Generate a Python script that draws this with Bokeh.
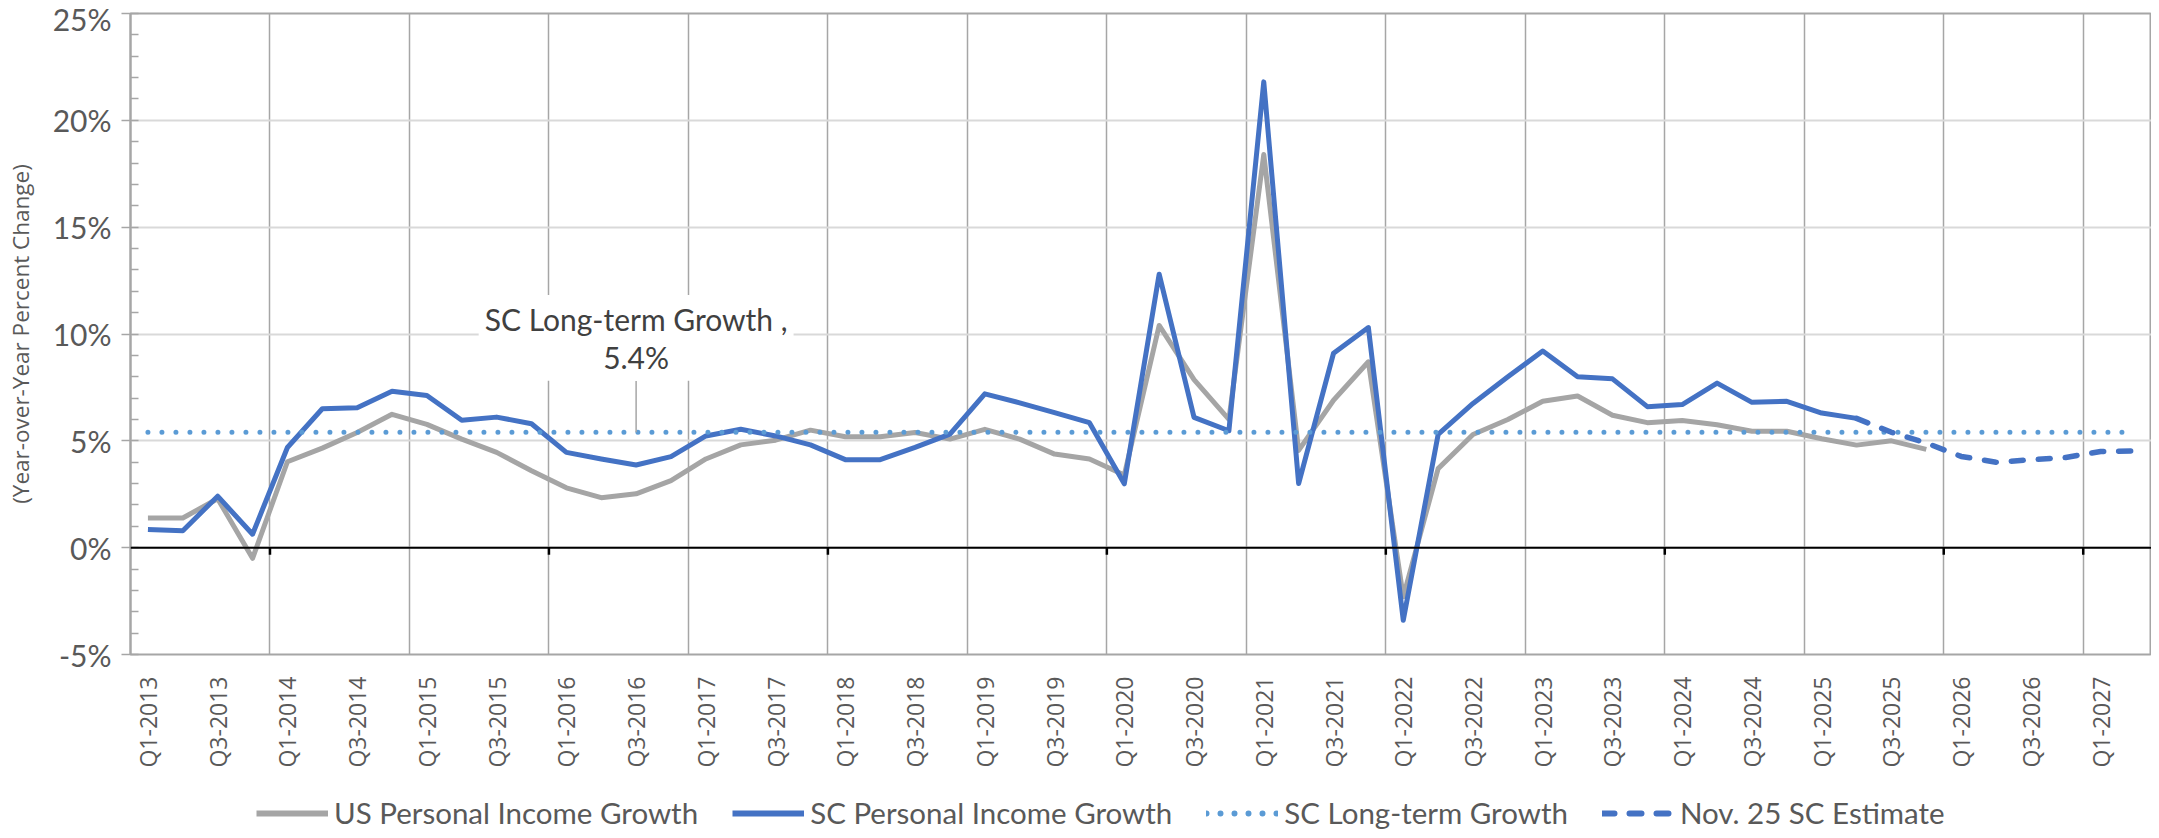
import numpy as np
from bokeh.plotting import figure
from bokeh.layouts import column
from bokeh.models import (Range1d, FixedTicker, Legend, LegendItem, Label, Span)
from bokeh.embed import file_html
from bokeh.resources import INLINE

# ---------------- data ----------------
quarters = [f"Q{q}-{y}" for y in range(2013, 2028) for q in range(1, 5)][:58]

us_growth = [1.39, 1.39, 2.29, -0.5, 4.02, 4.66, 5.39, 6.24, 5.77, 5.08, 4.46, 3.6,
             2.8, 2.34, 2.52, 3.14, 4.15, 4.81, 5.03, 5.5, 5.19, 5.19, 5.39, 5.08,
             5.54, 5.08, 4.38, 4.15, 3.4, 10.4, 7.86, 6.0, 18.4, 4.55, 6.9, 8.7,
             -2.3, 3.7, 5.3, 6.0, 6.85, 7.1, 6.2, 5.85, 5.95, 5.75, 5.45, 5.45,
             5.1, 4.8, 5.0, 4.6]

sc_growth = [0.85, 0.79, 2.41, 0.63, 4.69, 6.5, 6.55, 7.32, 7.12, 5.96, 6.11, 5.8,
             4.46, 4.15, 3.87, 4.26, 5.23, 5.54, 5.23, 4.81, 4.12, 4.12, 4.69, 5.31,
             7.2, 6.78, 6.32, 5.85, 2.99, 12.8, 6.1, 5.47, 21.8, 3.0, 9.1, 10.3,
             -3.4, 5.3, 6.75, 8.0, 9.2, 8.0, 7.9, 6.6, 6.7, 7.7, 6.8, 6.85,
             6.3, 6.05]

estimate_start = "Q2-2025"
sc_estimate = [6.05, 5.4, 4.9, 4.27, 4.0, 4.11, 4.22, 4.5, 4.53]

long_term = 5.4
label_quarter = "Q3-2016"
y_ticks = [-5, 0, 5, 10, 15, 20, 25]
series_names = ["US Personal Income Growth", "SC Personal Income Growth",
                "SC Long-term Growth", "Nov. 25 SC Estimate"]

# ---------------- styles ----------------
TXT = "#595959"
C_US, C_SC, C_LT = "#A5A5A5", "#4472C4", "#5B9BD5"
styles = [
    dict(line_color=C_US, line_width=5, line_join="round"),
    dict(line_color=C_SC, line_width=5, line_join="round"),
    dict(line_color=C_LT, line_width=5, line_dash="0 14", line_cap="round"),
    dict(line_color=C_SC, line_width=5.5, line_dash="12 15", line_cap="round",
         line_join="round"),
]

# ---------------- main figure ----------------
n = len(quarters)
QW = 34.87  # px per quarter (layout only)
W = 2151
FRAME_LEFT, FRAME_TOP, FRAME_BOTTOM = 130, 13, 656
H_MAIN = 770
LEG_FIG_H = 60
x_end = -0.5 + (W - FRAME_LEFT) / QW

p = figure(width=W, height=H_MAIN, output_backend="svg", toolbar_location=None,
           x_range=Range1d(-0.5, x_end), y_range=Range1d(-5, 25),
           min_border_left=FRAME_LEFT, min_border_right=0, min_border_top=FRAME_TOP,
           min_border_bottom=H_MAIN - FRAME_BOTTOM)
p.background_fill_color = "white"
p.border_fill_color = "white"
p.outline_line_color = "#A6A6A6"
p.outline_line_width = 2

# y axis
ya = p.yaxis[0]
ya.ticker = FixedTicker(ticks=y_ticks, minor_ticks=list(range(y_ticks[0], y_ticks[-1] + 1)))
ya.major_label_overrides = {t: f"{t}%" for t in y_ticks}
ya.major_label_text_font = "Lato"
ya.major_label_text_font_size = "30px"
ya.major_label_text_color = TXT
ya.axis_line_color = "#A6A6A6"
ya.axis_line_width = 2
ya.major_tick_line_color = "#A6A6A6"
ya.major_tick_line_width = 1.5
ya.major_tick_out = 9
ya.major_tick_in = 0
ya.minor_tick_line_color = "#A6A6A6"
ya.minor_tick_line_width = 1.5
ya.minor_tick_in = 8
ya.minor_tick_out = 0
ya.major_label_standoff = 10
ya.axis_label = "(Year-over-Year Percent Change)"
ya.axis_label_text_font = "Open Sans"
ya.axis_label_text_font_size = "22.5px"
ya.axis_label_text_font_style = "normal"
ya.axis_label_text_color = TXT
ya.axis_label_standoff = 14

# x axis
xa = p.xaxis[0]
xa.ticker = FixedTicker(ticks=list(range(0, n, 2)))
xa.major_label_overrides = {i: quarters[i] for i in range(0, n, 2)}
xa.major_label_orientation = np.pi / 2
xa.major_label_text_font = "Open Sans"
xa.major_label_text_font_size = "23px"
xa.major_label_text_color = TXT
xa.major_tick_line_color = None
xa.minor_tick_line_color = None
xa.axis_line_color = None
xa.major_label_standoff = 16

# grids: vertical lines at year boundaries
year_bounds = [i - 0.5 for i in range(4, n, 4)]
p.xgrid.ticker = FixedTicker(ticks=year_bounds)
p.xgrid.grid_line_color = "#A6A6A6"
p.xgrid.grid_line_width = 1.5
p.ygrid.grid_line_color = "#D9D9D9"
p.ygrid.grid_line_width = 2

# zero (category) axis line with its tick marks
p.add_layout(Span(location=0, dimension="width", line_color="black", line_width=2))
tick_pos = [b for k, b in enumerate(year_bounds) if k % 2 == 0 or k == len(year_bounds) - 1]
p.segment(x0=tick_pos, y0=[0] * len(tick_pos), x1=tick_pos,
          y1=[-7 / 21.43] * len(tick_pos), line_color="black", line_width=2.5)

# series
p.line(list(range(len(us_growth))), us_growth, **styles[0])
p.line(list(range(len(sc_growth))), sc_growth, **styles[1])
p.line(list(range(n)), [long_term] * n, **styles[2])
i0 = quarters.index(estimate_start)
p.line(list(range(i0, i0 + len(sc_estimate))), sc_estimate, **styles[3])

# data label with leader line
lx = quarters.index(label_quarter)
p.segment(x0=[lx], y0=[7.8], x1=[lx], y1=[long_term], line_color="#A6A6A6",
          line_width=1.5)
lab = Label(x=lx, y=9.82, text=f"SC Long-term Growth ,\n{long_term:.1f}%",
            text_align="center", text_baseline="middle", text_font="Lato",
            text_font_size="30px", text_color="#404040", text_line_height=1.05,
            background_fill_color="white", padding=6)
p.add_layout(lab)

# ---------------- legend strip ----------------
LEG_H = 30
lf = figure(width=W, height=LEG_FIG_H, output_backend="svg", toolbar_location=None,
            x_range=Range1d(0, 1), y_range=Range1d(0, 1),
            x_axis_location=None, y_axis_location=None,
            min_border_left=0, min_border_right=0,
            min_border_top=0, min_border_bottom=0)
lf.grid.visible = False
lf.outline_line_color = None
lf.background_fill_color = "white"
lf.border_fill_color = "white"
items = []
for name, st in zip(series_names, styles):
    st2 = dict(st)
    st2["line_width"] = 6
    # a renderer with a single empty (NaN) point: only its legend swatch shows
    r = lf.line([float("nan")], [float("nan")], **st2)
    items.append(LegendItem(label=name, renderers=[r]))
legend = Legend(items=items, orientation="horizontal", location=(126, 0))
legend.label_text_font = "Lato"
legend.label_text_font_size = "29.5px"
legend.label_text_color = TXT
legend.label_height = LEG_H
legend.glyph_width = 72
legend.glyph_height = LEG_H
legend.label_standoff = 6
legend.spacing = 34
legend.padding = 0
legend.margin = 0
legend.border_line_color = None
legend.background_fill_alpha = 0
lf.add_layout(legend)

layout = column(p, lf, spacing=0)
open("out.html", "w").write(file_html(layout, INLINE))
